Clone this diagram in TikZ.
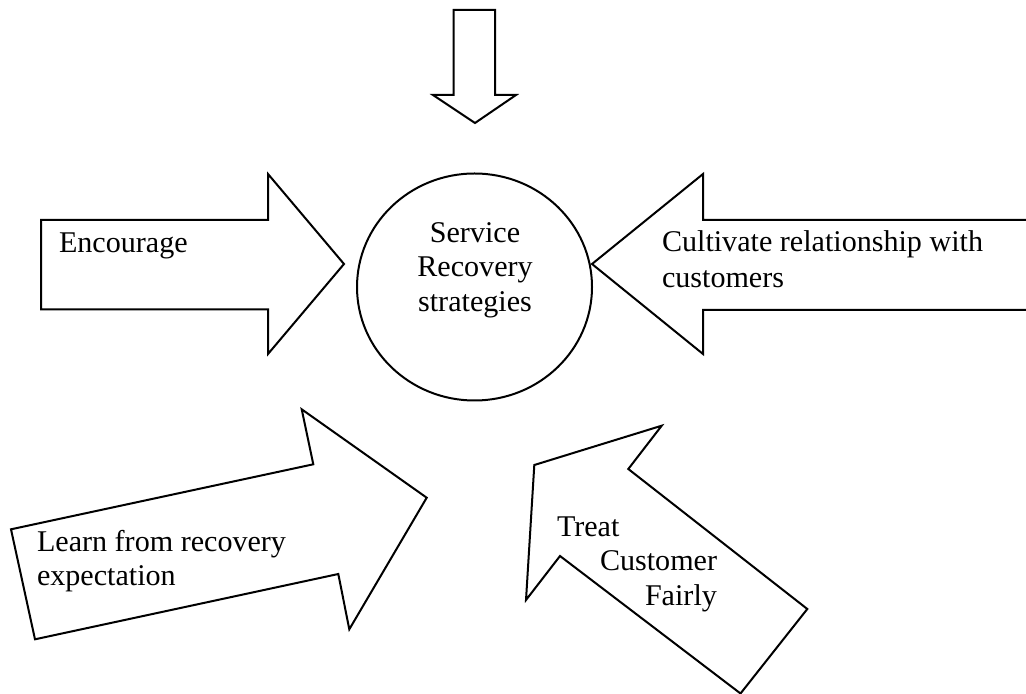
\documentclass[tikz,border=0pt]{standalone}
\usepackage{fontspec}
\setmainfont{Liberation Serif}
\usetikzlibrary{shapes.geometric}
\begin{document}
\begin{tikzpicture}[x=0.5pt,y=-0.5pt,
  shp/.style={draw=black,line width=1pt,line join=miter,fill=white},
  lbl/.style={inner sep=0pt,outer sep=0pt,font=\fontsize{15.05}{18}\selectfont}]
\useasboundingbox (0,0) rectangle (1026,694);
\clip (0,0) rectangle (1026,694);
\fill[white] (0,0) rectangle (1026,694);
% top arrow
\draw[shp] (453.5,10) -- (495,10) -- (495,95) -- (516,95) -- (475,123) -- (433,95) -- (453.5,95) -- cycle;
% centre circle
\node[draw,line width=1pt,ellipse,minimum width=117.5pt,minimum height=113.5pt,inner sep=0pt] (c) at (474.5,287) {};
\node[lbl,anchor=base] (s1) at (475,243) {Service};
\node[lbl,anchor=base] (s2) at (475,277) {Recovery};
\node[lbl,anchor=base] (s3) at (475,312) {strategies};
% left arrow
\draw[shp] (41,220) -- (268,220) -- (268,174) -- (344,264) -- (268,354) -- (268,309.5) -- (41,309.5) -- cycle;
\node[lbl,anchor=base west] (enc) at (59,253) {Encourage};
% right arrow
\draw[shp] (1040,220) -- (703,220) -- (703,174) -- (592,264) -- (703,354) -- (703,310) -- (1040,310);
\node[lbl,anchor=base west] (cul1) at (662,252) {Cultivate relationship with};
\node[lbl,anchor=base west] (cul2) at (662,288) {customers};
% learn arrow
\draw[shp] (35,639.3) -- (11,529.3) -- (313.3,464.3) -- (301.7,409.3) -- (426.7,497.7) -- (349.3,629.3) -- (338.3,574) -- cycle;
\node[lbl,anchor=base west] (l1) at (37,551.5) {Learn from recovery};
\node[lbl,anchor=base west] (l2) at (37,585.5) {expectation};
% treat arrow
\draw[shp] (534.3,465) -- (661.7,425.7) -- (628.3,469) -- (807.3,609) -- (740.5,693.5) -- (560,556) -- (526,600) -- cycle;
\node[lbl,anchor=base west] (t1) at (557,536.5) {Treat};
\node[lbl,anchor=base west] (t2) at (600,570.5) {Customer};
\node[lbl,anchor=base west] (t3) at (645,605) {Fairly};
\end{tikzpicture}
\end{document}
